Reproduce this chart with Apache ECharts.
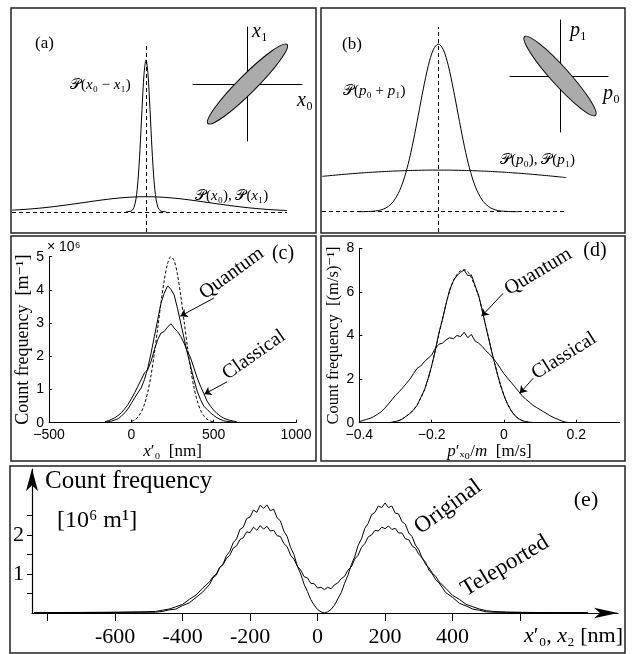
<!DOCTYPE html>
<html><head><meta charset="utf-8">
<script src="https://cdn.jsdelivr.net/npm/echarts@6/dist/echarts.min.js"></script>
<style>html,body{margin:0;padding:0;background:#fff}#c{width:635px;height:654px}</style>
</head><body><div id="c"></div>
<script>
// ---------- panel (a): schematic position distributions ----------
const aNarrowX = [-20,-18,-16,-14,-12,-10,-8,-6,-4,-2,0,2,4,6,8,10,12,14,16,18,20];
const aNarrowY = [0,0.001,0.002,0.007,0.026,0.076,0.185,0.370,0.606,0.815,0.9,0.815,0.606,0.370,0.185,0.076,0.026,0.007,0.002,0.001,0];
const aBroadX = [-134,-130,-120,-110,-100,-90,-80,-70,-60,-50,-40,-30,-20,-10,0,10,20,30,40,50,60,70,80,90,100,110,120,130,141];
const aBroadY = [0.0094,0.0106,0.0145,0.0194,0.0252,0.0321,0.0398,0.048,0.0565,0.065,0.0727,0.0795,0.0846,0.088,0.089,0.088,0.0846,0.0795,0.0727,0.065,0.0565,0.048,0.0398,0.0321,0.0252,0.0194,0.0145,0.0106,0.0073];
const ellipseA = [[0,0,56,9,45]];
// ---------- panel (b): schematic momentum distributions ----------
const bPeakX = [-80,-75,-70,-65,-60,-55,-50,-45,-40,-35,-30,-25,-20,-15,-10,-5,0,5,10,15,20,25,30,35,40,45,50,55,60,65,70,75,80];
const bPeakY = [0.0001,0.0004,0.0011,0.0029,0.0068,0.0152,0.0314,0.0605,0.109,0.183,0.287,0.421,0.575,0.732,0.871,0.966,1,0.966,0.871,0.732,0.575,0.421,0.287,0.183,0.109,0.0605,0.0314,0.0152,0.0068,0.0029,0.0011,0.0004,0.0001];
const bBroadX = [-116,-100,-80,-60,-40,-20,0,20,40,60,80,100,120,128];
const bBroadY = [0.2107,0.2197,0.2295,0.2374,0.2432,0.2468,0.248,0.2468,0.2432,0.2374,0.2295,0.2197,0.2083,0.2033];
const ellipseB = [[0,0,53,9,-48]];
// ---------- panel (c): position histograms [10^6 m^-1] vs x'0 [nm] ----------
const cX = [-160,-140,-120,-100,-80,-60,-40,-20,0,20,40,60,80,100,120,140,160,180,200,220,240,260,280,300,320,340,360,380,400,420,440,460,480,500,520,540,560,580,600,620,640];
const cQuantum = [0.02,0.03,0.05,0.08,0.12,0.2,0.3,0.42,0.58,0.75,0.9,1.05,1.3,1.65,2.1,2.6,3.1,3.6,3.9,4.12,4.02,3.85,3.45,3.0,2.55,2.1,1.7,1.3,0.95,0.7,0.5,0.4,0.3,0.22,0.15,0.1,0.06,0.04,0.03,0.02,0.01];
const cClassical = [0.03,0.06,0.1,0.15,0.22,0.3,0.42,0.55,0.72,0.9,1.1,1.3,1.5,1.6,1.85,2.2,2.5,2.7,2.75,2.88,2.98,2.85,2.75,2.6,2.4,2.15,1.95,1.65,1.35,1.1,0.88,0.65,0.5,0.38,0.28,0.2,0.14,0.1,0.07,0.05,0.03];
const cTheoryX = [0,20,40,60,80,100,120,140,160,180,200,220,240,260,280,300,320,340,360,380,400,420,440,460,480,500];
const cTheory = [0.04,0.08,0.17,0.32,0.56,0.93,1.44,2.09,2.84,3.61,4.29,4.79,5.0,4.88,4.47,3.83,3.07,2.31,1.62,1.07,0.66,0.38,0.21,0.10,0.05,0.02];
// ---------- panel (d): momentum histograms [(m/s)^-1] vs p'x0/m [m/s] ----------
const dQX = [-0.32,-0.31,-0.30,-0.29,-0.28,-0.27,-0.26,-0.25,-0.24,-0.23,-0.22,-0.21,-0.20,-0.19,-0.18,-0.17,-0.16,-0.15,-0.14,-0.13,-0.12,-0.11,-0.10,-0.09,-0.08,-0.07,-0.06,-0.05,-0.04,-0.03,-0.02,-0.01,0.00,0.01,0.02,0.03,0.04,0.05,0.06,0.07,0.08];
const dQuantum = [0.0,0.02,0.05,0.1,0.18,0.3,0.42,0.58,0.8,1.15,1.5,2.0,2.6,3.3,4.1,4.75,5.45,6.1,6.5,6.75,6.9,7.0,6.75,6.78,6.3,5.85,5.15,4.4,3.7,3.0,2.35,1.75,1.25,0.85,0.55,0.33,0.19,0.1,0.05,0.02,0.01];
const dTheory = [0.0,0.02,0.05,0.1,0.18,0.3,0.43,0.6,0.82,1.13,1.5,2.0,2.6,3.3,4.05,4.75,5.45,6.05,6.5,6.8,6.97,7.02,6.93,6.65,6.25,5.8,5.15,4.45,3.72,3.02,2.38,1.78,1.27,0.87,0.56,0.34,0.19,0.1,0.05,0.02,0.01];
const dCX = [-0.40,-0.39,-0.38,-0.37,-0.36,-0.35,-0.34,-0.33,-0.32,-0.31,-0.30,-0.29,-0.28,-0.27,-0.26,-0.25,-0.24,-0.23,-0.22,-0.21,-0.20,-0.19,-0.18,-0.17,-0.16,-0.15,-0.14,-0.13,-0.12,-0.11,-0.10,-0.09,-0.08,-0.07,-0.06,-0.05,-0.04,-0.03,-0.02,-0.01,0.00,0.01,0.02,0.03,0.04,0.05,0.06,0.07,0.08,0.09,0.10,0.11,0.12,0.13,0.14,0.15,0.16,0.17,0.18];
const dClassical = [0.05,0.1,0.15,0.2,0.28,0.38,0.5,0.65,0.85,1.05,1.25,1.42,1.6,1.8,2.0,2.25,2.5,2.6,2.8,2.95,3.1,3.4,3.6,3.65,3.8,3.9,3.85,4.0,3.95,4.15,3.9,4.05,3.75,3.65,3.5,3.3,3.15,2.95,2.75,2.5,2.25,2.05,1.85,1.65,1.45,1.25,1.08,0.95,0.8,0.7,0.6,0.5,0.4,0.3,0.22,0.15,0.08,0.03,0.0];
// ---------- panel (e): original vs teleported [10^6 m^-1] vs x [nm] ----------
const eX = [-840,-700,-600,-520,-480,-460,-440,-420,-400,-380,-360,-340,
  -320,-310,-300,-290,-280,-270,-260,-250,-240,-230,-220,-210,-200,-190,-180,-170,-160,-150,-140,-130,
  -120,-110,-100,-90,-80,-70,-60,-50,-40,-30,-20,-10,0,10,20,30,40,50,60,70,80,90,100,110,120,130,140,150,
  160,170,180,190,200,210,220,230,240,250,260,270,280,290,300,310,320,330,340,350,360,
  380,400,420,440,460,480,500,520,560,620,700,800];
const eOriginal = [0.01,0.01,0.015,0.02,0.02,0.04,0.08,0.1,0.19,0.26,0.4,0.54,
  0.73,0.9,0.97,1.16,1.25,1.47,1.58,1.8,1.9,2.14,2.2,2.42,2.46,2.64,2.58,2.76,2.68,2.77,2.62,2.66,
  2.44,2.36,2.1,1.96,1.68,1.5,1.2,1.0,0.74,0.55,0.34,0.2,0.09,0.03,0.0,0.03,0.09,0.2,0.36,0.52,
  0.76,0.97,1.24,1.44,1.73,1.9,2.17,2.3,2.52,2.58,2.74,2.7,2.82,2.7,2.74,2.56,2.54,2.34,2.28,2.05,
  1.96,1.74,1.62,1.4,1.3,1.1,1.0,0.85,0.77,
  0.52,0.4,0.25,0.18,0.1,0.07,0.03,0.02,0.015,0.01,0.01,0.01];
const eTeleported = [0.01,0.015,0.02,0.03,0.04,0.07,0.1,0.16,0.22,0.35,0.46,0.64,
  0.8,0.93,1.0,1.17,1.24,1.4,1.48,1.66,1.72,1.88,1.93,2.08,2.06,2.2,2.12,2.24,2.15,2.22,2.1,2.12,
  1.98,1.96,1.78,1.7,1.48,1.38,1.2,1.1,0.93,0.9,0.76,0.75,0.64,0.66,0.6,0.66,0.62,0.72,0.77,0.88,
  0.94,1.1,1.18,1.38,1.48,1.68,1.78,1.95,2.0,2.12,2.1,2.2,2.16,2.23,2.14,2.17,2.05,2.05,1.9,1.88,
  1.72,1.66,1.5,1.42,1.25,1.16,1.02,0.94,0.8,
  0.63,0.45,0.35,0.22,0.16,0.1,0.06,0.04,0.025,0.015,0.01,0.01];
const eXTicks = [-800,-600,-400,-200,0,200,400,600];
const eXLabels = [-600,-400,-200,0,200,400];
const eYTicks = [0.5,1,1.5,2,2.5];
const eYLabels = [1,2];

const zip = (xs, ys) => xs.map((x, i) => [x, ys[i]]);
const SERIF = '"Liberation Serif", "DejaVu Serif", serif';
const SANS = '"Liberation Sans", Arial, sans-serif';
const black = '#000';
const solid = {color: black, width: 1};
const dashed = {color: black, width: 1, type: [3, 2]};
const minus = v => String(v).replace('-', '\u2212');

function ellipseItem(params, api) {
  const c = api.coord([api.value(0), api.value(1)]);
  const s = api.size([api.value(2), api.value(3)]);
  return {
    type: 'ellipse', x: c[0], y: c[1], rotation: api.value(4) * Math.PI / 180,
    shape: {cx: 0, cy: 0, rx: s[0], ry: s[1]},
    style: {fill: '#ababab', stroke: black, lineWidth: 1}
  };
}
const hidden = (gi, min, max) => ({gridIndex: gi, type: 'value', min, max, show: false, splitLine: {show: false}});
const inset = (gi, min, max) => ({gridIndex: gi, type: 'value', min, max,
  axisLine: {show: true, onZero: true, lineStyle: {color: black, width: 1}},
  axisTick: {show: false}, axisLabel: {show: false}, splitLine: {show: false}});
const matlabAxis = (gi, min, max, interval, extra) => Object.assign({
  gridIndex: gi, type: 'value', min, max, interval,
  axisLine: {show: true, onZero: false, lineStyle: {color: black, width: 1}},
  axisTick: {show: true, inside: true, length: 3, lineStyle: {color: black}},
  axisLabel: {color: black, fontFamily: SANS, fontSize: 14, margin: 5, formatter: minus},
  splitLine: {show: false}
}, extra);
const refLines = {
  symbol: 'none', silent: true, label: {show: false}, lineStyle: {color: black, width: 1, type: [4, 3]},
  data: [{xAxis: 0}, {yAxis: 0}]
};
const arrows = (list) => ({
  symbol: ['none', 'arrow'], symbolSize: 7, silent: true, label: {show: false},
  lineStyle: {color: black, width: 1, type: 'solid'},
  data: list.map(p => [{coord: p[0]}, {coord: p[1]}])
});
const lineS = (xi, data, style, extra) => Object.assign({
  type: 'line', xAxisIndex: xi, yAxisIndex: xi, data, showSymbol: false, symbol: 'none',
  lineStyle: style, silent: true, animation: false
}, extra);

const T = (x, y, text, size, opt) => Object.assign({
  type: 'text', x, y, silent: true,
  style: Object.assign({text, font: size + 'px ' + SERIF, fill: black, align: 'left', verticalAlign: 'middle',
    rich: {i: {font: 'italic ' + size + 'px ' + SERIF, fill: black}}}, opt && opt.style)
}, opt && opt.el);
const rot = d => d * Math.PI / 180;
const box = (x, y, w, h) => ({type: 'rect', silent: true, shape: {x, y, width: w, height: h},
  style: {fill: 'none', stroke: '#222', lineWidth: 1.5}});
const nameStyle = (size) => ({fontFamily: SERIF, fontSize: size, color: black,
  rich: {i: {fontStyle: 'italic', fontFamily: SERIF, fontSize: size, color: black}}});

const option = {
  animation: false,
  backgroundColor: '#fff',
  grid: [
    {left: 12, top: 43, width: 275, height: 189},
    {left: 193, top: 27, width: 109, height: 114},
    {left: 322, top: 27, width: 245, height: 205},
    {left: 510, top: 20, width: 98, height: 112},
    {left: 49, top: 256.7, width: 247, height: 166},
    {left: 359.3, top: 248.3, width: 260.3, height: 174.4},
    {left: 32, top: 469, width: 586, height: 144}
  ],
  xAxis: [
    hidden(0, -134, 141),
    inset(1, -54.5, 54.5),
    hidden(2, -116.3, 128.7),
    inset(3, -50, 48),
    matlabAxis(4, -500, 1000, 500, {
      name: '{i|x}\u2032\u2080  [nm]', nameLocation: 'middle', nameGap: 20, nameTextStyle: nameStyle(17)
    }),
    matlabAxis(5, -0.4, 0.32, 0.2, {
      name: '{i|p}\u2032\u2093\u2080/{i|m}  [m/s]', nameLocation: 'middle', nameGap: 20,
      axisLabel: {color: black, fontFamily: SANS, fontSize: 14, margin: 5, formatter: minus, showMaxLabel: false},
      nameTextStyle: nameStyle(17)
    }),
    {gridIndex: 6, type: 'value', min: -846, max: 890,
      axisLine: {show: true, onZero: false, symbol: ['none', 'arrow'], symbolSize: [8, 24], lineStyle: {color: black, width: 1.2}},
      axisTick: {show: true, inside: false, length: 8, customValues: eXTicks, lineStyle: {color: black}},
      axisLabel: {show: true, customValues: eXLabels, margin: 13, color: black, fontFamily: SERIF, fontSize: 22},
      splitLine: {show: false}}
  ],
  yAxis: [
    hidden(0, -0.12, 1),
    inset(1, -57, 57),
    hidden(2, -0.121, 1.101),
    inset(3, -56, 56),
    matlabAxis(4, 0, 5, 1, {
      name: 'Count frequency  [m\u207b\u00b9]', nameLocation: 'middle', nameGap: 16, nameTextStyle: nameStyle(18)
    }),
    matlabAxis(5, 0, 8, 2, {
      name: 'Count frequency  [(m/s)\u207b\u00b9]', nameLocation: 'middle', nameGap: 12, nameTextStyle: nameStyle(16.5)
    }),
    {gridIndex: 6, type: 'value', min: 0, max: 3.69,
      axisLine: {show: true, onZero: false, symbol: ['none', 'arrow'], symbolSize: [9, 22], lineStyle: {color: black, width: 1.2}},
      axisTick: {show: true, inside: false, length: 5, customValues: eYTicks, lineStyle: {color: black}},
      axisLabel: {show: true, customValues: eYLabels, margin: 8, color: black, fontFamily: SERIF, fontSize: 22},
      splitLine: {show: false}}
  ],
  series: [
    lineS(0, zip(aBroadX, aBroadY), solid, {smooth: true, markLine: refLines}),
    lineS(0, zip(aNarrowX, aNarrowY), solid, {smooth: 0.3}),
    {type: 'custom', xAxisIndex: 1, yAxisIndex: 1, data: ellipseA, renderItem: ellipseItem, encode: {x: 0, y: 1}, silent: true},
    lineS(2, zip(bBroadX, bBroadY), solid, {smooth: true, markLine: refLines}),
    lineS(2, zip(bPeakX, bPeakY), solid, {smooth: 0.3}),
    {type: 'custom', xAxisIndex: 3, yAxisIndex: 3, data: ellipseB, renderItem: ellipseItem, encode: {x: 0, y: 1}, silent: true},
    lineS(4, zip(cTheoryX, cTheory), dashed, {smooth: 0.3}),
    lineS(4, zip(cX, cQuantum), solid, {}),
    lineS(4, zip(cX, cClassical), solid, {markLine: arrows([[[500, 3.75], [298, 3.21]], [[581, 1.23], [443, 0.86]]])}),
    lineS(5, zip(dQX, dTheory), dashed, {smooth: 0.3}),
    lineS(5, zip(dQX, dQuantum), solid, {}),
    lineS(5, zip(dCX, dClassical), solid, {markLine: arrows([[[-0.002, 5.94], [-0.062, 4.88]], [[0.081, 2.04], [0.044, 1.35]]])}),
    lineS(6, zip(eX, eOriginal), solid, {}),
    lineS(6, zip(eX, eTeleported), solid, {})
  ],
  graphic: {elements: [
    box(11, 8, 305, 225), box(321, 8, 304, 225), box(11, 236, 305, 225), box(321, 236, 304, 225), box(10, 466, 615, 187),
    T(35, 44, '(a)', 17),
    T(70, 85, '\ud835\udcab({i|x}\u2080 \u2212 {i|x}\u2081)', 15),
    T(195, 196, '\ud835\udcab({i|x}\u2080), \ud835\udcab({i|x}\u2081)', 15),
    T(252, 32, '{i|x}\u2081', 20),
    T(297, 101, '{i|x}\u2080', 20),
    T(342, 45, '(b)', 17),
    T(343, 91, '\ud835\udcab({i|p}\u2080 + {i|p}\u2081)', 15),
    T(500, 160, '\ud835\udcab({i|p}\u2080), \ud835\udcab({i|p}\u2081)', 15),
    T(570, 31, '{i|p}\u2081', 20),
    T(603, 94, '{i|p}\u2080', 20),
    {type: 'text', x: 47, y: 247, silent: true, style: {text: '\u00d7 10\u2076', font: '14px ' + SANS, fill: black, verticalAlign: 'middle'}},
    T(283, 254, '(c)', 20, {style: {align: 'center'}}),
    T(231.7, 273.3, 'Quantum', 20, {style: {align: 'center'}, el: {rotation: rot(36)}}),
    T(254, 355, 'Classical', 20, {style: {align: 'center'}, el: {rotation: rot(35)}}),
    T(595, 251, '(d)', 20, {style: {align: 'center'}}),
    T(538.3, 271.7, 'Quantum', 20, {style: {align: 'center'}, el: {rotation: rot(31)}}),
    T(564, 356, 'Classical', 20, {style: {align: 'center'}, el: {rotation: rot(32)}}),
    T(45, 481, 'Count frequency', 25),
    T(57, 521, '[10\u2076 m\u00b9]', 24),
    T(586, 500, '(e)', 22, {style: {align: 'center'}}),
    T(448, 507, 'Original', 23, {style: {align: 'center'}, el: {rotation: rot(36)}}),
    T(505, 566, 'Teleported', 23, {style: {align: 'center'}, el: {rotation: rot(31)}}),
    T(623, 636, '{i|x}\u2032\u2080, {i|x}\u2082 [nm]', 22, {style: {align: 'right'}})
  ]}
};
const chart = echarts.init(document.getElementById('c'), null, {renderer: 'canvas'});
chart.setOption(option);
</script></body></html>
